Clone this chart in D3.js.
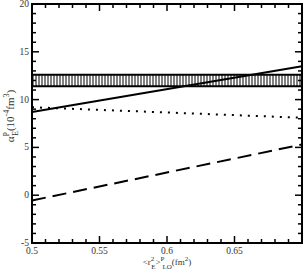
<!DOCTYPE html>
<html>
<head>
<meta charset="utf-8">
<script src="https://cdn.jsdelivr.net/npm/d3@7"></script>
<style>
  body { margin: 0; background: #fff; }
  svg text { font-family: "Liberation Serif", "DejaVu Serif", serif; fill: #333; }
</style>
</head>
<body>
<div id="chart"></div>
<script>
// data
var xDomain = [0.5, 0.7];
var yDomain = [-5, 20];
var xTicks = [0.5, 0.55, 0.6, 0.65];
var yTicks = [-5, 0, 5, 10, 15, 20];
var bandRange = [11.4, 12.6];
var solidLine = [[0.5, 8.7], [0.7, 13.5]];
var dottedLine = [[0.5, 9.2], [0.7, 8.1]];
var dashedLine = [[0.5, -0.55], [0.7, 5.3]];

const margin = { left: 32, right: 3, top: 4, bottom: 28 };
const W = 305, H = 271;
const width = W - margin.left - margin.right;
const height = H - margin.top - margin.bottom;

const svg = d3.select("#chart").append("svg")
    .attr("width", W).attr("height", H);
const chart = svg.append("g")
    .attr("transform", `translate(${margin.left},${margin.top})`);

const x = d3.scaleLinear().domain(xDomain).range([0, width]);
const y = d3.scaleLinear().domain(yDomain).range([height, 0]);

// hatch pattern for band
const defs = svg.append("defs");
const pat = defs.append("pattern")
    .attr("id", "vhatch")
    .attr("patternUnits", "userSpaceOnUse")
    .attr("width", 3).attr("height", 10);
pat.append("line")
    .attr("x1", 1).attr("x2", 1).attr("y1", 0).attr("y2", 10)
    .attr("stroke", "#000").attr("stroke-width", 1);

chart.append("rect")
    .attr("x", 0).attr("width", width)
    .attr("y", y(bandRange[1]))
    .attr("height", y(bandRange[0]) - y(bandRange[1]))
    .attr("fill", "url(#vhatch)");
bandRange.forEach(function (v) {
    chart.append("line")
        .attr("x1", 0).attr("x2", width)
        .attr("y1", y(v)).attr("y2", y(v))
        .attr("stroke", "#000").attr("stroke-width", 2);
});

const line = d3.line().x(d => x(d[0])).y(d => y(d[1]));

chart.append("path").datum(solidLine).attr("d", line)
    .attr("fill", "none").attr("stroke", "#000").attr("stroke-width", 2);
chart.append("path").datum(dottedLine).attr("d", line)
    .attr("fill", "none").attr("stroke", "#000").attr("stroke-width", 2)
    .attr("stroke-dasharray", "2,6");
chart.append("path").datum(dashedLine).attr("d", line)
    .attr("fill", "none").attr("stroke", "#000").attr("stroke-width", 2)
    .attr("stroke-dasharray", "14,7");

// ticks on all four sides, pointing in
const xMinor = d3.range(0, 21).map(i => 0.5 + i * 0.01);
const yMinor = d3.range(0, 26).map(i => -5 + i);
function isMajorX(v) { return Math.abs(v * 20 - Math.round(v * 20)) < 1e-6; }
function isMajorY(v) { return v % 5 === 0; }

const ticks = chart.append("g").attr("stroke", "#000").attr("stroke-width", 1.5);
xMinor.forEach(function (v) {
    const len = isMajorX(v) ? 7 : 4;
    ticks.append("line").attr("x1", x(v)).attr("x2", x(v)).attr("y1", height).attr("y2", height - len);
    ticks.append("line").attr("x1", x(v)).attr("x2", x(v)).attr("y1", 0).attr("y2", len);
});
yMinor.forEach(function (v) {
    const len = isMajorY(v) ? 7 : 4;
    ticks.append("line").attr("y1", y(v)).attr("y2", y(v)).attr("x1", 0).attr("x2", len);
    ticks.append("line").attr("y1", y(v)).attr("y2", y(v)).attr("x1", width).attr("x2", width - len);
});

// frame
chart.append("rect")
    .attr("width", width).attr("height", height)
    .attr("fill", "none").attr("stroke", "#000").attr("stroke-width", 2);

// tick labels
chart.selectAll(".xl").data(xTicks).enter().append("text")
    .attr("x", d => x(d)).attr("y", height + 11)
    .attr("text-anchor", "middle").attr("font-size", 9.5)
    .text(d => d);
chart.selectAll(".yl").data(yTicks).enter().append("text")
    .attr("x", -3).attr("y", d => y(d) + 3)
    .attr("text-anchor", "end").attr("font-size", 9.5)
    .text(d => d);

// x axis title
const xt = svg.append("text")
    .attr("x", margin.left + x(0.6)).attr("y", H - 6)
    .attr("text-anchor", "middle").attr("font-size", 9);
xt.append("tspan").text("<r");
xt.append("tspan").attr("dy", -4).attr("font-size", 7).text("2");
xt.append("tspan").attr("dy", 8).attr("dx", -3).attr("font-size", 7).text("E");
xt.append("tspan").attr("dy", -4).text(">");
xt.append("tspan").attr("dy", -4).attr("font-size", 7).text("P");
xt.append("tspan").attr("dy", 8).attr("dx", -2).attr("font-size", 7).text("LO");
xt.append("tspan").attr("dy", -4).text("(fm");
xt.append("tspan").attr("dy", -4).attr("font-size", 7).text("2");
xt.append("tspan").attr("dy", 4).text(")");

// y axis title
const yt = svg.append("text")
    .attr("transform", `translate(14,116) rotate(-90)`)
    .attr("text-anchor", "middle").attr("font-size", 11);
yt.append("tspan").text("\u03B1");
yt.append("tspan").attr("dy", -5).attr("font-size", 8).text("P");
yt.append("tspan").attr("dy", 9).attr("dx", -4).attr("font-size", 8).text("E");
yt.append("tspan").attr("dy", -4).text("(10");
yt.append("tspan").attr("dy", -5).attr("font-size", 8).text("-4");
yt.append("tspan").attr("dy", 5).text("fm");
yt.append("tspan").attr("dy", -5).attr("font-size", 8).text("3");
yt.append("tspan").attr("dy", 5).text(")");
</script>
</body>
</html>
